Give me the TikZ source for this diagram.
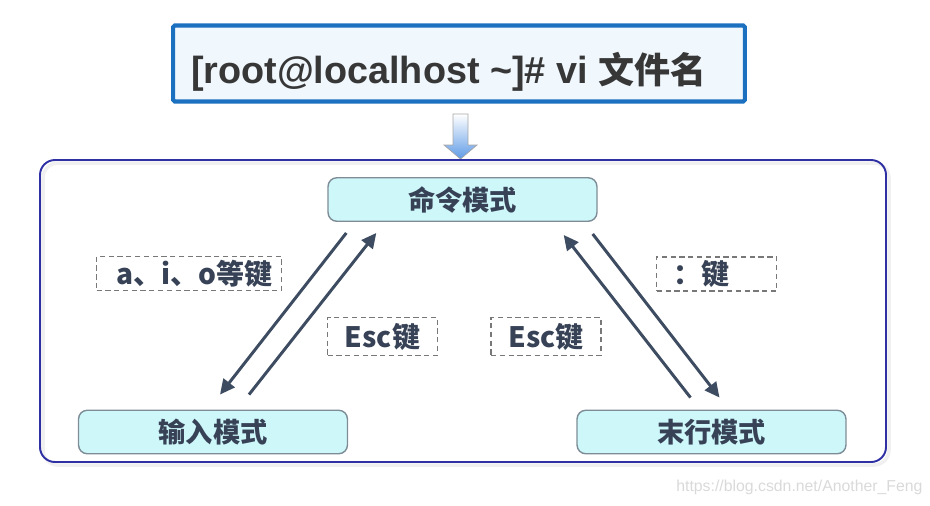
\documentclass[tikz,border=0pt]{standalone}
\usepackage{fontspec}
\setmainfont{Liberation Sans}
\newfontfamily\cjk{Noto Sans CJK SC}
\usetikzlibrary{arrows.meta, positioning, calc}
\definecolor{mytext}{RGB}{55,66,86}
\definecolor{mydark}{RGB}{55,55,55}
\definecolor{myarrow}{RGB}{62,76,98}
\definecolor{myblue}{RGB}{28,112,192}
\definecolor{myframe}{RGB}{48,48,165}
\definecolor{mygray}{RGB}{120,120,120}
\definecolor{hdrblue}{RGB}{240,247,253}
\definecolor{hdrcyan}{RGB}{206,247,250}
\definecolor{modeedge}{RGB}{125,140,150}
\definecolor{arrowblue}{RGB}{95,155,230}
\tikzset{
  cmdbox/.style={rectangle, draw=myblue, fill=hdrblue, line width=2.3pt,
    minimum width=11.44cm, minimum height=1.52cm, rounded corners=1pt, inner sep=0pt},
  modebox/.style={rectangle, draw=modeedge, fill=hdrcyan, line width=0.8pt,
    minimum width=5.38cm, minimum height=0.87cm, rounded corners=5pt,
    font=\cjk\bfseries\fontsize{15.5}{18}\selectfont, text=mytext},
  keybox/.style={rectangle, draw=mygray, dash pattern=on 3pt off 2pt, line width=0.8pt,
    minimum height=0.68cm, inner sep=0pt, font=\cjk\bfseries\fontsize{16}{18}\selectfont, text=mytext},
  arrow/.style={-{Triangle[length=8.5pt,width=8pt]}, line width=1.7pt, color=myarrow}
}
\begin{document}
\begin{tikzpicture}[x=0.02cm, y=-0.02cm]
  \useasboundingbox (0,0) rectangle (930,505);

  % Command line
  \node[cmdbox, text=mydark, text height=23pt, text depth=0pt] (cmd) at (459,63.5)
    {\makebox[11.44cm][l]{\hspace{0.36cm}\bfseries\fontsize{21.5}{26}\selectfont [root@localhost \textasciitilde]\# vi {\cjk\fontsize{20.5}{26}\selectfont 文件名}}};

  % Down arrow
  \shade[top color=white, bottom color=arrowblue, draw=gray!70, line width=0.4pt]
    (453,114) -- (468,114) -- (468,145) -- (477,145) -- (460.5,159) -- (444,145) -- (453,145) -- cycle;

  % Frame
  \draw[gray!12, line width=2pt, rounded corners=8.5pt] (43,163) rectangle (889,465);
  \draw[myframe, line width=1.1pt, rounded corners=8.5pt] (40,160) rectangle (886,462);

  % Modes
  \node[modebox] (command) at (462.5,199.5) {命令模式};
  \node[modebox] (insert) at (213,432) {输入模式};
  \node[modebox] (lastline) at (711.5,432) {末行模式};

  % Transitions
  \draw[arrow] ($(command.south west)+(19,11)$) -- ($(insert.north)+(7,-15)$);
  \draw[arrow] ($(insert.north)+(36,-15)$) -- ($(command.south west)+(49,11)$);
  \draw[arrow] ($(command.south east)+(-5,12)$) -- ($(lastline.north)+(8,-12)$);
  \draw[arrow] ($(lastline.north)+(-21,-12)$) -- ($(command.south east)+(-34,13)$);

  % Keys
  \node[keybox, minimum width=3.7cm] (aio) at (189,273.5) {\makebox[3.7cm][l]{\hspace{0.4cm}a、i、o等键}};
  \node[keybox, minimum width=2.2cm, minimum height=0.76cm] (escl) at (382.5,336.5) {Esc键};
  \node[keybox, minimum width=2.2cm, minimum height=0.76cm] (escr) at (546,336.5) {Esc键};
  \node[keybox, minimum width=2.4cm] (colon) at (716.7,273.8) {\makebox[2.4cm][l]{\hspace{0.34cm}：键}};

  % Watermark
  \node[text=gray!30, font=\fontsize{9}{11}\selectfont, anchor=west, inner sep=0pt] (mark) at (676,487)
    {https://blog.csdn.net/Another\_Feng};
\end{tikzpicture}
\end{document}
